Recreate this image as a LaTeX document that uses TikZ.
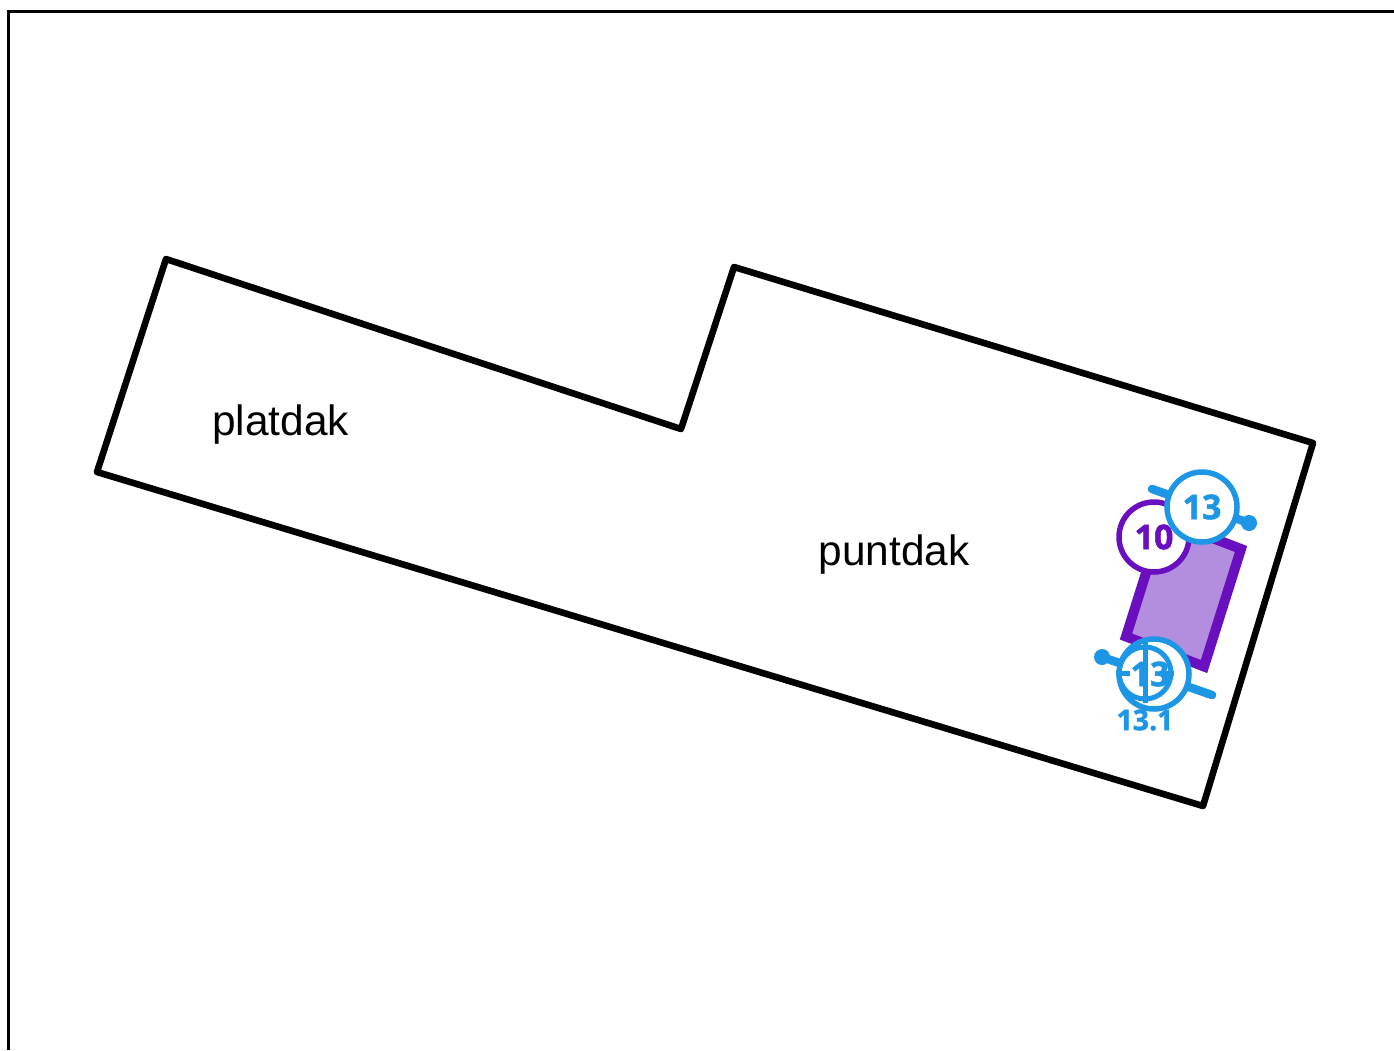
\documentclass[tikz,border=0pt]{standalone}
\usepackage{fontspec}
\setmainfont{Liberation Sans}
\newfontfamily\numfont[BoldFeatures={FakeBold=1.6}]{Open Sans}
\definecolor{tagblue}{HTML}{1E96E6}
\definecolor{roofviolet}{HTML}{6A0FBF}
\definecolor{roofpale}{HTML}{B48EDE}
\tikzset{
  outline/.style={draw=black,line width=6.6pt,line join=round},
  framing/.style={draw=black,line width=3.2pt},
  rooflabel/.style={font=\fontsize{42.4}{50}\selectfont,text=black,inner sep=0pt},
  hatchzone/.style={draw=roofviolet,fill=roofpale,line width=10pt,line join=miter},
  tagcircle/.style={circle,fill=white,line width=5.5pt,minimum size=70pt,inner sep=0pt,font=\numfont\bfseries\fontsize{34}{40}\selectfont},
  bluetag/.style={tagcircle,draw=tagblue,text=tagblue},
  violettag/.style={tagcircle,draw=roofviolet,text=roofviolet},
  axisline/.style={draw=tagblue,line width=8.5pt,line cap=round},
  axisdot/.style={circle,fill=tagblue,minimum size=16pt,inner sep=0pt},
  crossline/.style={draw=tagblue,line width=5pt},
  subtag/.style={text=tagblue,inner sep=0pt,font=\numfont\bfseries\fontsize{28.5}{36}\selectfont}
}
\begin{document}
\begin{tikzpicture}[x=1pt,y=-1pt]
\useasboundingbox (0,0) rectangle (1394,1050);
\fill[white] (0,0) rectangle (1394,1050);
\draw[framing] (1394,11.5) -- (8.5,11.5) -- (8.5,1050);
\draw[outline] (166,259) -- (681,429) -- (734,267) -- (1313,443) -- (1203,806) -- (97,472) -- cycle;
\node[rooflabel] (plat) at (280.5,425) {platdak};
\node[rooflabel] (punt) at (894,555) {puntdak};
\draw[hatchzone] (1163,519) -- (1241,549) -- (1204,666.5) -- (1126,636.5) -- cycle;
% lower tag
\coordinate (lowA) at (1102,657);
\coordinate (lowB) at (1212,695);
\draw[axisline] (lowA) -- (lowB);
\node[axisdot] (lowdot) at (lowA) {};
\node[bluetag] (tagLow) at (1154,674) {};
\node[circle,draw=tagblue,line width=5pt,minimum size=52pt,inner sep=0pt] (cross) at (1145,673) {};
\coordinate (crossN) at (1145,640);
\coordinate (crossS) at (1145,703);
\coordinate (crossW) at (1116,673);
\coordinate (crossWi) at (1130,673);
\coordinate (crossEi) at (1163,673);
\coordinate (crossE) at (1174,673);
\draw[crossline] (crossN) -- (crossS);
\draw[crossline] (crossW) -- (crossWi);
\draw[crossline] (crossEi) -- (crossE);
\node[text=tagblue,inner sep=0pt,font=\numfont\bfseries\fontsize{34}{40}\selectfont] (tagLowText) at (1150,674) {13};
\node[subtag] (sub) at (1145,720) {13.1};
% upper tags
\node[violettag] (ten) at (1154,537) {10};
\coordinate (upA) at (1152,489);
\coordinate (upB) at (1249,523);
\draw[axisline] (upA) -- (upB);
\node[axisdot] (updot) at (upB) {};
\node[bluetag] (tagUp) at (1202,507) {13};
\end{tikzpicture}
\end{document}
